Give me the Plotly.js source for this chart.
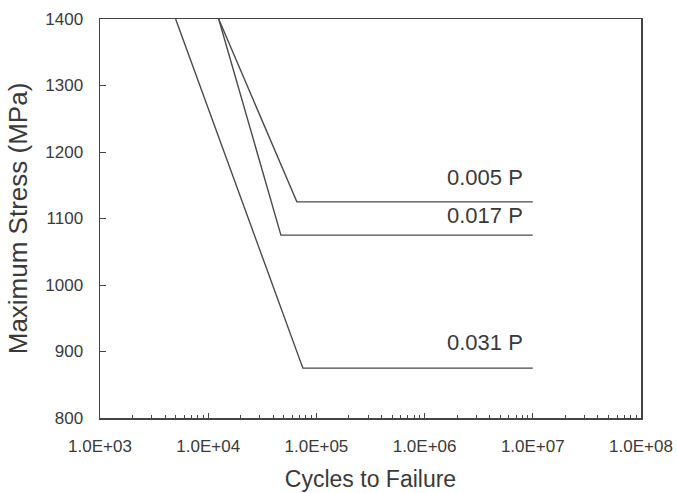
<!DOCTYPE html>
<html>
<head>
<meta charset="utf-8">
<script src="https://cdn.plot.ly/plotly-3.0.1.min.js"></script>
<style>html,body{margin:0;padding:0;background:#fff;}#chart{width:677px;height:493px;}</style>
</head>
<body>
<div id="chart"></div>
<script>
// Series: cycles to failure (x) and maximum stress in MPa (y)
const series = ["0.005 P", "0.017 P", "0.031 P"];
const cycles_005 = [12500, 66000, 1e7];
const stress_005 = [1400, 1125, 1125];
const cycles_017 = [12500, 47000, 1e7];
const stress_017 = [1400, 1075, 1075];
const cycles_031 = [5000, 75000, 1e7];
const stress_031 = [1400, 875, 875];

// Label anchor values (data coordinates)
const labelX = [1e7, 1e7, 1e7];
const labelY = [1162, 1104, 913];

// Axis ticks
const xTickVals = [1e3, 1e4, 1e5, 1e6, 1e7, 1e8];
const xTickText = ["1.0E+03", "1.0E+04", "1.0E+05", "1.0E+06", "1.0E+07", "1.0E+08"];
const yTickVals = [800, 900, 1000, 1100, 1200, 1300, 1400];
const minorMult = [2, 3, 4, 5, 6, 7, 8, 9];

const minorVals = [];
for (let d = 3; d < 8; d++) for (const m of minorMult) minorVals.push(m * Math.pow(10, d));

const lineStyle = {color: "#4a4a4a", width: 1.4};
const xs = [cycles_005, cycles_017, cycles_031];
const ys = [stress_005, stress_017, stress_031];
const traces = series.map((name, i) => ({
  x: xs[i], y: ys[i], name: name, mode: "lines", type: "scatter",
  line: lineStyle, hoverinfo: "skip", showlegend: false
}));
// invisible trace on minor-tick axis so it renders
traces.push({x: [1e3, 1e8], y: [800, 800], xaxis: "x2", mode: "lines",
  line: {width: 0}, showlegend: false, hoverinfo: "skip"});

const fontFam = "Liberation Sans, Arial, Helvetica, sans-serif";
const txtColor = "#3a3a3a";

const layout = {
  width: 677, height: 493,
  margin: {l: 100, r: 36, t: 19, b: 75},
  paper_bgcolor: "#fff", plot_bgcolor: "#fff",
  font: {family: fontFam, color: txtColor},
  showlegend: false,
  xaxis: {
    type: "log", range: [3, 8], autorange: false,
    tickvals: xTickVals, ticktext: xTickText,
    ticks: "inside", ticklen: 5, tickwidth: 1, tickcolor: "#444",
    showgrid: false, zeroline: false,
    showline: true, linecolor: "#444", linewidth: 1.5, mirror: true,
    tickfont: {size: 17, color: txtColor},
    ticklabelstandoff: 12,
    title: {text: "Cycles to Failure", font: {size: 23, color: txtColor}, standoff: 16},
    automargin: false
  },
  xaxis2: {
    type: "log", range: [3, 8], autorange: false, overlaying: "x",
    anchor: "y", side: "bottom",
    tickvals: minorVals, showticklabels: false,
    ticks: "inside", ticklen: 3, tickwidth: 1, tickcolor: "#444",
    showgrid: false, zeroline: false, showline: false
  },
  yaxis: {
    range: [800, 1400], autorange: false,
    tickvals: yTickVals,
    ticks: "inside", ticklen: 6, tickwidth: 1, tickcolor: "#444",
    showgrid: false, zeroline: false,
    showline: true, linecolor: "#444", linewidth: 1.5, mirror: true,
    tickfont: {size: 17, color: txtColor},
    ticklabelstandoff: 12,
    title: {text: "Maximum Stress (MPa)", font: {size: 26, color: txtColor}, standoff: 10},
    automargin: false
  },
  annotations: series.map((s, i) => ({
    x: Math.log10(labelX[i]), y: labelY[i], xref: "x", yref: "y",
    text: s, showarrow: false, xanchor: "right", yanchor: "middle", xshift: -8,
    font: {size: 22, color: txtColor, family: fontFam}
  }))
};

Plotly.newPlot("chart", traces, layout, {staticPlot: true, displayModeBar: false});
</script>
</body>
</html>
